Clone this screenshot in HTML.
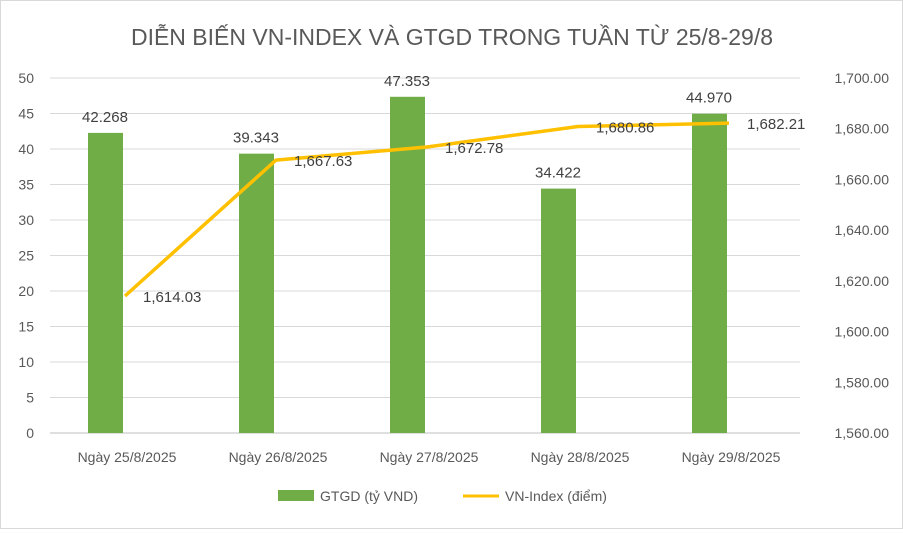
<!DOCTYPE html>
<html><head><meta charset="utf-8"><style>
body{margin:0;background:#fff;}
svg text{font-family:"Liberation Sans",sans-serif;}
</style></head><body>
<svg width="903" height="529" xmlns="http://www.w3.org/2000/svg">
<rect x="0.5" y="0.5" width="902" height="528" fill="#fff" stroke="#d9d9d9"/>
<text x="452" y="45" text-anchor="middle" font-size="23" fill="#595959">DIỄN BIẾN VN-INDEX VÀ GTGD TRONG TUẦN TỪ 25/8-29/8</text>
<g id="grid"></g><g id="bars"></g><g id="line"></g><g id="labels"></g>
<g>
<rect x="278" y="490" width="36" height="11" fill="#70ad47"/>
<text x="320" y="501" font-size="14" fill="#595959">GTGD (tỷ VND)</text>
<line x1="463" y1="496" x2="499" y2="496" stroke="#ffc000" stroke-width="3"/>
<text x="505" y="501" font-size="14" fill="#595959">VN-Index (điểm)</text>
</g>
</svg>
<script>
const categories=["Ngày 25/8/2025","Ngày 26/8/2025","Ngày 27/8/2025","Ngày 28/8/2025","Ngày 29/8/2025"];
const gtgd=[42.268,39.343,47.353,34.422,44.970];
const vnindex=[1614.03,1667.63,1672.78,1680.86,1682.21];
const leftTicks=[0,5,10,15,20,25,30,35,40,45,50];
const rightTicks=[1560,1580,1600,1620,1640,1660,1680,1700];
const NS="http://www.w3.org/2000/svg";
const y0=433,y1=78;
const yL=v=>y0-(v/50)*(y0-y1);
const yR=v=>y0-((v-1560)/140)*(y0-y1);
const xC=i=>105+151*i;
function mk(parent,tag,attrs,text){const e=document.createElementNS(NS,tag);for(const k in attrs)e.setAttribute(k,attrs[k]);if(text!==undefined)e.textContent=text;document.getElementById(parent).appendChild(e);return e;}
leftTicks.forEach(t=>{
 const l=mk('grid','line',{x1:50,x2:800,y1:yL(t),y2:yL(t),stroke:t===0?'#bfbfbf':'#d9d9d9'});
 
 
 const tx=mk('labels','text',{x:34,y:yL(t)+5,'text-anchor':'end','font-size':14,fill:'#595959'},String(t));
 
 
});
rightTicks.forEach(t=>{
 const tx=mk('labels','text',{x:889,y:yR(t)+5,'text-anchor':'end','font-size':14,fill:'#595959'},t.toLocaleString('en-US',{minimumFractionDigits:2}));
 
 
});
categories.forEach((c,i)=>{
 const tx=mk('labels','text',{x:xC(i)+22,y:462,'text-anchor':'middle','font-size':14,fill:'#595959'},c);
 
 
});
gtgd.forEach((v,i)=>{
 const b=mk('bars','rect',{x:xC(i)-17,y:yL(v),width:35,height:y0-yL(v),fill:'#70ad47'});
 
 
 const tx=mk('labels','text',{x:xC(i),y:yL(v)-11,'text-anchor':'middle','font-size':15,fill:'#404040'},v.toFixed(3));
 
 
});
const pts=vnindex.map((v,i)=>[xC(i)+20,yR(v)]);
const pl=mk('line','polyline',{points:pts.map(p=>p.join(',')).join(' '),fill:'none',stroke:'#ffc000','stroke-width':3.5,'stroke-linejoin':'round'});


vnindex.forEach((v,i)=>{
 const tx=mk('labels','text',{x:pts[i][0]+18,y:pts[i][1]+6,'font-size':15,fill:'#404040'},v.toLocaleString('en-US',{minimumFractionDigits:2}));
 
 
});
</script>
</body></html>
